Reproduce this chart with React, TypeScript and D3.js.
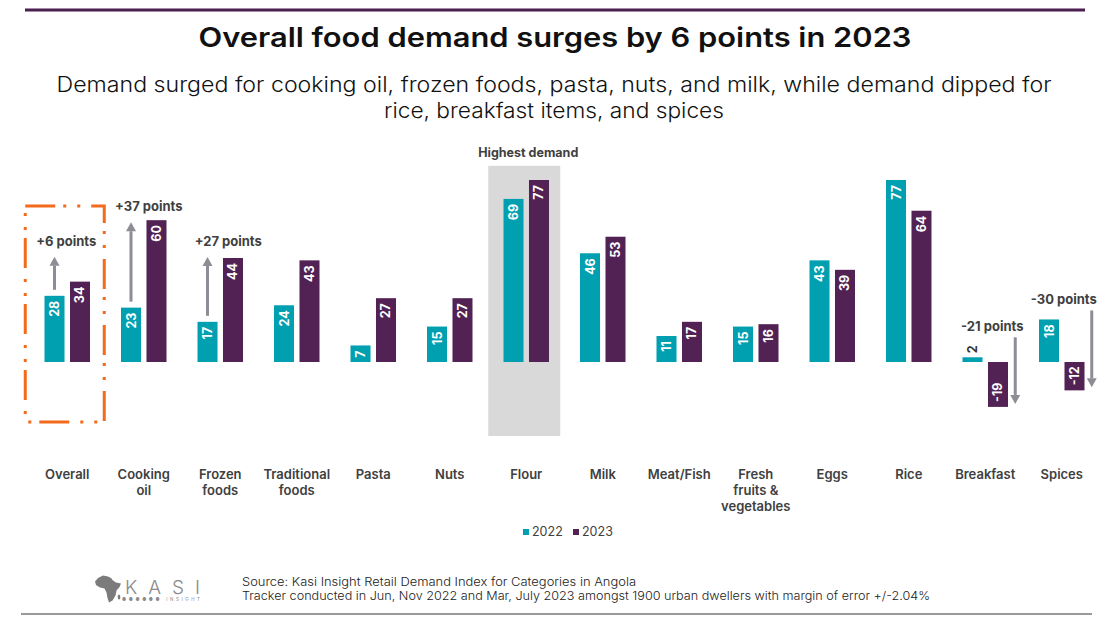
import * as React from "react";
import * as d3 from "d3";

// ---- data ----
const categories = [
  "Overall", "Cooking oil", "Frozen foods", "Traditional foods", "Pasta", "Nuts", "Flour",
  "Milk", "Meat/Fish", "Fresh fruits & vegetables", "Eggs", "Rice", "Breakfast", "Spices",
];
const categoryLabels = [
  ["Overall"], ["Cooking", "oil"], ["Frozen", "foods"], ["Traditional", "foods"], ["Pasta"],
  ["Nuts"], ["Flour"], ["Milk"], ["Meat/Fish"], ["Fresh", "fruits &", "vegetables"],
  ["Eggs"], ["Rice"], ["Breakfast"], ["Spices"],
];
const seriesNames = ["2022", "2023"];
const values2022 = [28, 23, 17, 24, 7, 15, 69, 46, 11, 15, 43, 77, 2, 18];
const values2023 = [34, 60, 44, 43, 27, 27, 77, 53, 17, 16, 39, 64, -19, -12];

const annotations = [
  { category: "Overall", text: "+6 points" },
  { category: "Cooking oil", text: "+37 points" },
  { category: "Frozen foods", text: "+27 points" },
  { category: "Breakfast", text: "-21 points" },
  { category: "Spices", text: "-30 points" },
];
const highlightCategory = "Flour";
const highlightText = "Highest demand";
const focusCategory = "Overall";

const title = "Overall food demand surges by 6 points in 2023";
const subtitle = [
  "Demand surged for cooking oil, frozen foods, pasta, nuts, and milk, while demand dipped for",
  "rice, breakfast items, and spices",
];
const sourceLines = [
  "Source: Kasi Insight Retail Demand Index for Categories in Angola",
  "Tracker conducted in Jun, Nov 2022 and Mar, July  2023 amongst 1900 urban dwellers with margin of error +/-2.04%",
];

const W = 1110;
const H = 621;
const colors = ["#00A0B0", "#522254"];
const textGray = "#404040";
const arrowGray = "#8e8d95";
const FONT = "Inter, 'Noto Sans', sans-serif";

// per-annotation label lift (px) above the reference bar top
const annotationLift: Record<string, number> = {
  "Overall": 36, "Cooking oil": 9, "Frozen foods": 12, "Breakfast": 26, "Spices": 15,
};
const annotationDx: Record<string, number> = {
  "Overall": -1, "Cooking oil": 5, "Frozen foods": 8, "Breakfast": 7, "Spices": 2,
};

export default function App() {
  const svgRef = React.useRef<SVGSVGElement>(null);

  React.useEffect(() => {
    const svgElement = svgRef.current;
    if (!svgElement) return;
    while (svgElement.firstChild) svgElement.removeChild(svgElement.firstChild);

    const svg = d3.select(svgElement).attr("font-family", FONT);

    const x = d3.scaleBand<string>().domain(categories).range([29, 1100]);
    const inner = d3.scaleBand<string>().domain(seriesNames)
      .range([-22.75, 22.75]).paddingInner(0.215);
    const y = d3.scaleLinear().domain([0, 77]).range([362, 180]);
    const cx = (c: string) => (x(c) ?? 0) + x.bandwidth() / 2;

    // top rule
    svg.append("line").attr("x1", 25).attr("x2", 1085).attr("y1", 10).attr("y2", 10)
      .attr("stroke", "#4b1f50").attr("stroke-width", 3);

    // title + subtitle
    svg.append("text").attr("x", W / 2).attr("y", 47).attr("text-anchor", "middle")
      .attr("font-size", 27).attr("font-weight", 600).attr("fill", "#111")
      .attr("textLength", 713).attr("lengthAdjust", "spacingAndGlyphs").text(title);
    const subW = [995, 340];
    subtitle.forEach((s, i) => {
      svg.append("text").attr("x", W / 2 - 1).attr("y", 92 + i * 26).attr("text-anchor", "middle")
        .attr("font-size", 21).attr("font-weight", 300).attr("fill", "#111")
        .attr("textLength", subW[i]).attr("lengthAdjust", "spacingAndGlyphs").text(s);
    });

    // highlight box for Flour
    const hc = cx(highlightCategory);
    svg.append("rect").attr("x", hc - 38).attr("width", 72)
      .attr("y", y(83)).attr("height", y(-31.3) - y(83)).attr("fill", "#d9d9d9");
    svg.append("text").attr("x", hc + 2).attr("y", 157).attr("text-anchor", "middle")
      .attr("font-size", 12.5).attr("font-weight", 700).attr("fill", textGray).text(highlightText);

    // dashed focus box around Overall
    const fc = cx(focusCategory);
    svg.append("rect").attr("x", fc - 42).attr("width", 79)
      .attr("y", y(66)).attr("height", y(-25.4) - y(66))
      .attr("fill", "none").attr("stroke", "#F26A1B").attr("stroke-width", 3)
      .attr("stroke-dasharray", "30 8 3 11 3 11");

    // bars
    const series = [values2022, values2023];
    const g = svg.append("g");
    series.forEach((vals, si) => {
      const name = seriesNames[si];
      const bx = (c: string) => cx(c) + (inner(name) ?? 0);
      g.selectAll(`.bar-${name}`).data(categories).enter().append("rect")
        .attr("x", (c) => bx(c))
        .attr("width", inner.bandwidth())
        .attr("y", (_c, i) => Math.min(y(vals[i]), y(0)))
        .attr("height", (_c, i) => Math.abs(y(vals[i]) - y(0)))
        .attr("fill", colors[si]);

      g.selectAll(`.lbl-${name}`).data(categories).enter().append("text")
        .attr("transform", (c, i) => {
          const v = vals[i];
          const px = bx(c) + inner.bandwidth() / 2;
          if (v < 0) return `translate(${px},${y(v) - 5}) rotate(-90)`;
          if (v < 5) return `translate(${px},${y(v) - 4}) rotate(-90)`;
          return `translate(${px},${y(v) + 5}) rotate(-90)`;
        })
        .attr("text-anchor", (_c, i) => (vals[i] < 5 ? "start" : "end"))
        .attr("dy", "0.36em")
        .attr("font-size", 12.5).attr("font-weight", 700)
        .attr("fill", (_c, i) => (vals[i] >= 0 && vals[i] < 5 ? "#333" : "#fff"))
        .text((_c, i) => String(vals[i]));
    });

    // change annotations with arrows
    const arrow = (ax: number, y1: number, y2: number) => {
      const dir = y2 < y1 ? -1 : 1;
      const headLen = 9;
      svg.append("line").attr("x1", ax).attr("x2", ax).attr("y1", y1).attr("y2", y2 - dir * headLen)
        .attr("stroke", arrowGray).attr("stroke-width", 3);
      svg.append("path")
        .attr("d", `M${ax - 5},${y2 - dir * headLen} L${ax + 5},${y2 - dir * headLen} L${ax},${y2} Z`)
        .attr("fill", arrowGray);
    };
    annotations.forEach((a) => {
      const i = categories.indexOf(a.category);
      const v0 = values2022[i];
      const v1 = values2023[i];
      const c = cx(a.category);
      const lift = annotationLift[a.category] ?? 10;
      const rising = v1 >= v0;
      const labelY = rising ? y(v1) - lift : y(v0) - lift;
      if (rising) {
        const ax = c + (inner("2022") ?? 0) + inner.bandwidth() / 2;
        arrow(ax, y(v0) - 6, labelY + 11);
      } else {
        arrow(c + 30, labelY + 6, y(v1) - 3);
      }
      svg.append("text").attr("x", c + (annotationDx[a.category] ?? 0)).attr("y", labelY)
        .attr("text-anchor", "middle").attr("font-size", 13).attr("font-weight", 700)
        .attr("fill", textGray).text(a.text);
    });

    // category labels
    categories.forEach((c, i) => {
      const t = svg.append("text").attr("x", cx(c)).attr("y", 479).attr("text-anchor", "middle")
        .attr("font-size", 13).attr("font-weight", 600).attr("fill", textGray);
      categoryLabels[i].forEach((line, li) => {
        t.append("tspan").attr("x", cx(c)).attr("dy", li === 0 ? 0 : 16).text(line);
      });
    });

    // legend
    const legend = svg.append("g").attr("transform", "translate(523,536)");
    seriesNames.forEach((s, i) => {
      const lg = legend.append("g").attr("transform", `translate(${i * 50},0)`);
      lg.append("rect").attr("x", 0).attr("y", -7).attr("width", 6).attr("height", 6).attr("fill", colors[i]);
      lg.append("text").attr("x", 9).attr("y", 0).attr("font-size", 12.5).attr("fill", textGray).text(s);
    });

    // logo
    const logo = svg.append("g").attr("transform", "translate(95,575)").attr("fill", "#7b7b7b");
    logo.append("path").attr("d",
      "M3,3 L8,0.5 L13,1.5 L16,3 L18,5.5 L21,7.5 L26,8.5 L24.5,12 L21.5,15.5 L20.5,20.5 L17.5,25.5 L14,27.5 L12.5,23 L11.5,17.5 L9.5,13.5 L5,12.5 L1,10 L0,6.5 Z");
    logo.append("ellipse").attr("cx", 24).attr("cy", 22).attr("rx", 1.3).attr("ry", 2.6);
    logo.append("text").attr("x", 30).attr("y", 19).attr("font-size", 19).attr("font-weight", 300)
      .attr("fill", "#8a8a8a").attr("textLength", 75).attr("lengthAdjust", "spacing").text("KASI");
    logo.append("text").attr("x", 27).attr("y", 26).attr("font-size", 4.5).attr("fill", "#8a8a8a")
      .attr("textLength", 78).attr("lengthAdjust", "spacing").text("●●●●●● INSIGHT");

    // source
    const srcW = [394, 688];
    sourceLines.forEach((s, i) => {
      svg.append("text").attr("x", 242).attr("y", 586 + i * 14).attr("font-size", 12)
        .attr("font-weight", 300)
        .attr("fill", "#222").attr("textLength", srcW[i]).attr("lengthAdjust", "spacingAndGlyphs").text(s);
    });

    // bottom rule
    svg.append("line").attr("x1", 21).attr("x2", 1092).attr("y1", 614).attr("y2", 614)
      .attr("stroke", "#9a9a9a").attr("stroke-width", 2);

    return () => {
      while (svgElement.firstChild) svgElement.removeChild(svgElement.firstChild);
    };
  }, []);

  return (
    <>
      <style>{"body{margin:0;background:#fff}"}</style>
      <svg ref={svgRef} width={W} height={H} style={{ display: "block" }} />
    </>
  );
}
